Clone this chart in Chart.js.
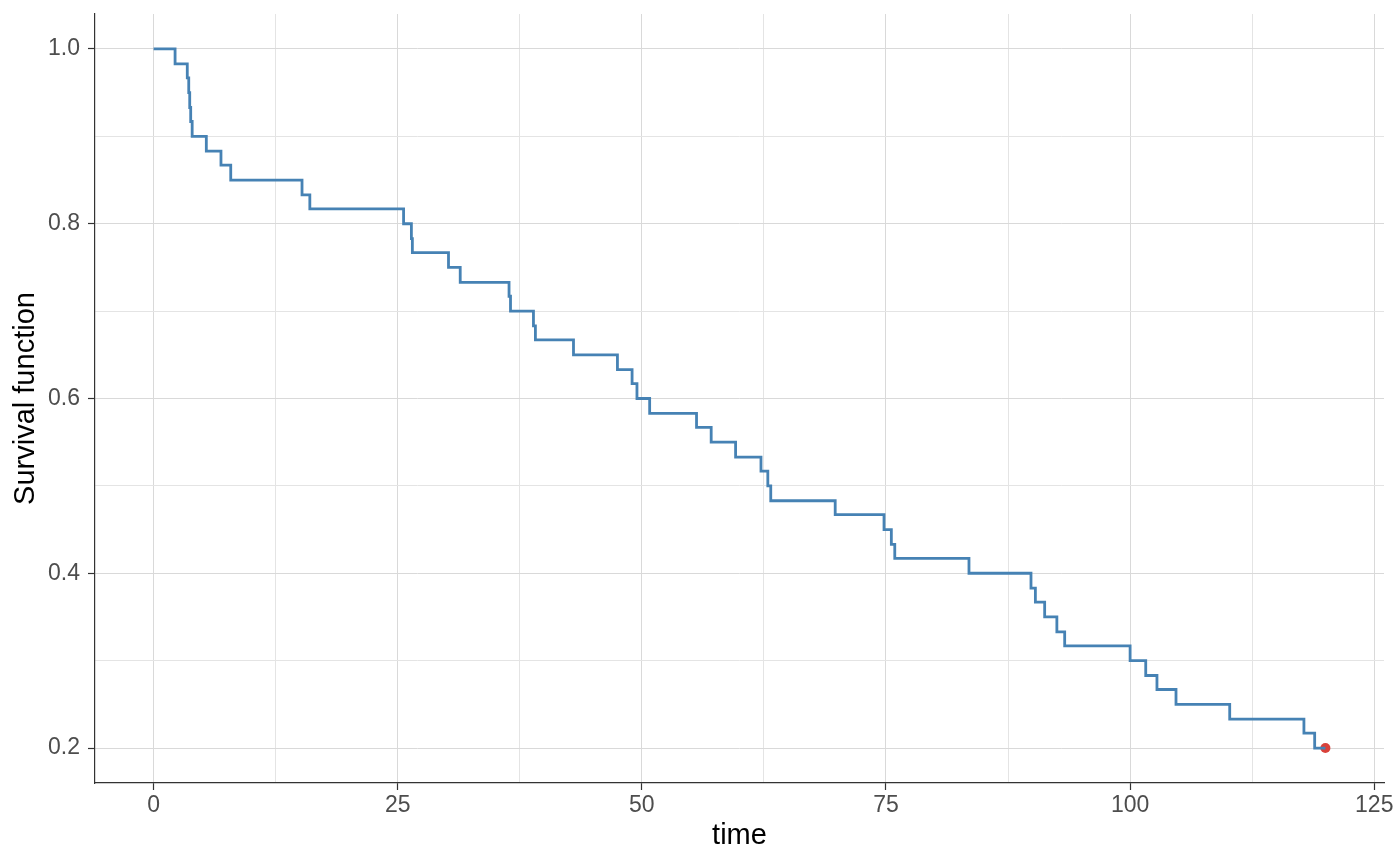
<!DOCTYPE html>
<html>
<head>
<meta charset="utf-8">
<script src="https://cdn.jsdelivr.net/npm/chart.js@4"></script>
<style>
  html, body { margin: 0; padding: 0; background: #ffffff; }
  canvas { display: block; }
</style>
</head>
<body>
<canvas id="c" width="1400" height="866"></canvas>
<script>
// Kaplan-Meier step data (time at which survival changes, survival from that time on)
const times = [0, 2.2, 3.45, 3.6, 3.7, 3.8, 3.95, 5.4, 6.9, 7.9, 15.2, 16.0, 25.6, 26.4, 26.5,
  30.2, 31.4, 36.4, 36.55, 38.9, 39.1, 43.0, 47.5, 49.0, 49.5, 50.8, 55.6, 57.1, 59.6, 62.2,
  62.9, 63.2, 69.8, 74.8, 75.55, 75.9, 83.5, 89.85, 90.3, 91.25, 92.5, 93.3, 100.0, 101.6,
  102.75, 104.7, 110.2, 117.8, 118.9, 120];
const survival = [1.000, 0.983, 0.967, 0.950, 0.933, 0.917, 0.900, 0.883, 0.867, 0.850, 0.833,
  0.817, 0.800, 0.783, 0.767, 0.750, 0.733, 0.717, 0.700, 0.683, 0.667, 0.650, 0.633, 0.617,
  0.600, 0.583, 0.567, 0.550, 0.533, 0.517, 0.500, 0.483, 0.467, 0.450, 0.433, 0.417, 0.400,
  0.383, 0.367, 0.350, 0.333, 0.317, 0.300, 0.283, 0.267, 0.250, 0.233, 0.217, 0.200, 0.200];
// censored observation marker
const censorTimes = [120];
const censorSurv = [0.2];
// axis ticks
const xMajorTicks = [0, 25, 50, 75, 100, 125];
const xMinorTicks = [12.5, 37.5, 62.5, 87.5, 112.5];
const yMajorTicks = [0.2, 0.4, 0.6, 0.8, 1.0];
const yMinorTicks = [0.3, 0.5, 0.7, 0.9];
const xTickLabels = ['0', '25', '50', '75', '100', '125'];
const yTickLabels = ['0.2', '0.4', '0.6', '0.8', '1.0'];

const FONT = "'Liberation Sans', Arial, sans-serif";
const isMajor = (arr, v) => arr.some(m => Math.abs(m - v) < 1e-9);

function labelFor(majors, labels) {
  return function(value) {
    const i = majors.findIndex(m => Math.abs(m - value) < 1e-9);
    return i >= 0 ? labels[i] : '';
  };
}

const kmData = times.map((t, i) => ({x: t, y: survival[i]}));
const censorData = censorTimes.map((t, i) => ({x: t, y: censorSurv[i]}));

new Chart(document.getElementById('c'), {
  type: 'line',
  data: {
    datasets: [
      {
        data: kmData,
        stepped: true,
        borderColor: '#4682B4',
        borderWidth: 2.8,
        pointRadius: 0,
        fill: false,
        tension: 0
      },
      {
        type: 'scatter',
        data: censorData,
        pointRadius: 5,
        pointBackgroundColor: '#D9413A',
        pointBorderWidth: 0,
        showLine: false
      }
    ]
  },
  options: {
    responsive: false,
    animation: false,
    devicePixelRatio: 1,
    layout: { padding: { top: 14, right: 16, left: 0, bottom: 0 } },
    plugins: { legend: { display: false }, tooltip: { enabled: false } },
    scales: {
      x: {
        type: 'linear',
        min: -6,
        max: 126,
        afterBuildTicks: s => { s.ticks = xMajorTicks.concat(xMinorTicks).sort((a, b) => a - b).map(v => ({value: v})); },
        afterFit: s => { s.height = 83; s.paddingRight = 0; s.paddingLeft = 0; },
        ticks: {
          callback: labelFor(xMajorTicks, xTickLabels),
          font: { family: FONT, size: 23 },
          color: '#4d4d4d',
          padding: 2,
          maxRotation: 0,
          autoSkip: false
        },
        grid: {
          color: ctx => isMajor(xMajorTicks, ctx.tick.value) ? '#d9d9d9' : '#e4e4e4',
          lineWidth: 1,
          tickLength: 7,
          tickColor: ctx => isMajor(xMajorTicks, ctx.tick.value) ? '#333333' : 'rgba(0,0,0,0)',
          tickWidth: 1.2
        },
        border: { display: true, color: '#333333', width: 1.2 },
        title: {
          display: true,
          text: 'time',
          font: { family: FONT, size: 29 },
          color: '#000000',
          padding: { top: 0, bottom: 13 }
        }
      },
      y: {
        type: 'linear',
        min: 0.16,
        max: 1.04,
        afterBuildTicks: s => { s.ticks = yMajorTicks.concat(yMinorTicks).sort((a, b) => a - b).map(v => ({value: v})); },
        afterFit: s => { s.width = 95; s.paddingTop = 0; s.paddingBottom = 0; },
        ticks: {
          callback: labelFor(yMajorTicks, yTickLabels),
          font: { family: FONT, size: 23 },
          color: '#4d4d4d',
          padding: 8,
          autoSkip: false
        },
        grid: {
          color: ctx => isMajor(yMajorTicks, ctx.tick.value) ? '#d9d9d9' : '#e4e4e4',
          lineWidth: 1,
          tickLength: 7,
          tickColor: ctx => isMajor(yMajorTicks, ctx.tick.value) ? '#333333' : 'rgba(0,0,0,0)',
          tickWidth: 1.2
        },
        border: { display: true, color: '#333333', width: 1.2 },
        title: {
          display: true,
          text: 'Survival function',
          font: { family: FONT, size: 29 },
          color: '#000000',
          padding: { top: 9, bottom: 0 }
        }
      }
    }
  }
});
</script>
</body>
</html>
